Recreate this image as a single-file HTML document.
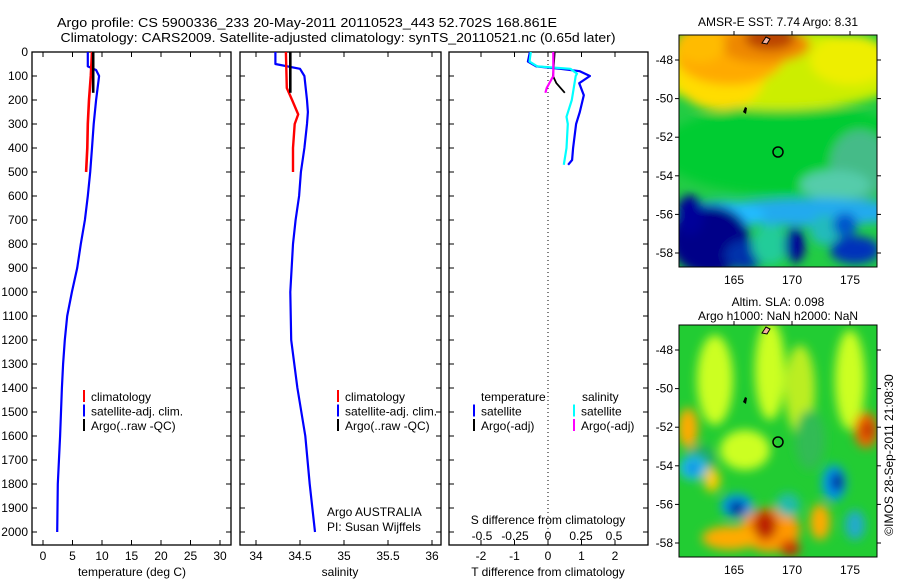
<!DOCTYPE html>
<html><head><meta charset="utf-8"><style>
html,body{margin:0;padding:0;background:#fff;}
svg{display:block;font-family:"Liberation Sans",sans-serif;}
</style></head><body>
<svg id="fig" width="900" height="580" viewBox="0 0 900 580">
<rect width="900" height="580" fill="#fff"/>
<text x="307" y="27" font-size="13" text-anchor="middle" textLength="500" lengthAdjust="spacingAndGlyphs">Argo profile: CS 5900336_233 20-May-2011 20110523_443 52.702S 168.861E</text>
<text x="338" y="42" font-size="13" text-anchor="middle" textLength="555" lengthAdjust="spacingAndGlyphs">Climatology: CARS2009. Satellite-adjusted climatology: synTS_20110521.nc (0.65d later)</text>
<g id="panels"></g>
<g id="maps"></g>
</svg>
<script>
// ---- data ----
const depthTicks=[0,100,200,300,400,500,600,700,800,900,1000,1100,1200,1300,1400,1500,1600,1700,1800,1900,2000];
const tTicks=[0,5,10,15,20,25,30];
const sTicks=[34,34.5,35,35.5,36];
const dTTicks=[-2,-1,0,1,2];
const dSTicks=[-0.5,-0.25,0,0.25,0.5];
const dSTickLabels=["-0.5","-0.25","0","0.25","0.5"];

const satTdepth=[0,60,75,100,200,300,400,500,600,700,800,900,1000,1100,1200,1300,1400,1600,1800,2000];
const satT=[7.6,7.6,9.0,9.5,9.0,8.6,8.3,8.0,7.6,7.1,6.4,5.8,4.9,4.1,3.7,3.4,3.2,2.9,2.5,2.4];
const climTdepth=[0,100,200,300,400,500];
const climT=[8.3,8.1,7.8,7.6,7.5,7.3];
const argoTdepth=[0,170];
const argoT=[8.5,8.5];

const satSdepth=[0,50,70,100,200,250,300,400,500,600,700,800,1000,1200,1400,1600,1800,2000];
const satS=[34.22,34.22,34.5,34.55,34.58,34.59,34.58,34.55,34.51,34.49,34.45,34.42,34.39,34.4,34.47,34.56,34.61,34.67];
const climSdepth=[0,150,200,260,300,400,500];
const climS=[34.34,34.35,34.41,34.48,34.44,34.42,34.42];
const argoSdepth=[0,170];
const argoS=[34.39,34.39];

const dTdepth=[0,40,60,70,80,100,130,180,250,300,400,450,470];
const dTsat=[-0.54,-0.6,-0.35,0.36,0.95,1.25,0.93,1.07,0.95,0.84,0.75,0.72,0.6];
const dTargoDepth=[0,100,130,170];
const dTargo=[0.2,0.15,0.25,0.5];
const dSdepth=[0,40,60,70,90,100,200,270,300,400,470];
const dSsat=[-0.13,-0.14,-0.08,0.17,0.22,0.21,0.18,0.14,0.15,0.14,0.12];
const dSargoDepth=[0,100,150,170];
const dSargo=[0.04,0.04,-0.01,-0.02];

// ---- axes ----
const Y0=52,YB=545;
const yD=d=>Y0+d*0.24;
const xT=t=>43+t*5.9;
const xS=s=>256+(s-34)*88;
const xdT=v=>548+v*33.5;
const xdS=v=>548+v*132;
const NS="http://www.w3.org/2000/svg";
const P=document.getElementById('panels');
function mk(tag,attrs,parent){const e=document.createElementNS(NS,tag);for(const k in attrs)e.setAttribute(k,attrs[k]);(parent||P).appendChild(e);return e;}
function txt(x,y,s,size,anchor,parent){const e=mk('text',{x:x,y:y,'font-size':size||12,'text-anchor':anchor||'start'},parent);e.textContent=s;return e;}
function line(xf,vals,depths,color,w,name){
  let d='';vals.forEach((v,i)=>{d+=(i?'L':'M')+xf(v).toFixed(1)+' '+yD(depths[i]).toFixed(1);});
  const p=mk('path',{d:d,fill:'none',stroke:color,'stroke-width':w||2.2,'stroke-linejoin':'round'});
  
  
}
const boxes=[[32,231],[240,441],[449,648]];
boxes.forEach((b,i)=>{
  const r=mk('rect',{x:b[0],y:Y0,width:b[1]-b[0],height:YB-Y0,fill:'none',stroke:'#000','stroke-width':1.3});
  
  
  depthTicks.forEach(d=>{mk('line',{x1:b[0],x2:b[0]+5,y1:yD(d),y2:yD(d),stroke:'#000'});mk('line',{x1:b[1],x2:b[1]-5,y1:yD(d),y2:yD(d),stroke:'#000'});});
});
depthTicks.forEach(d=>{const t=txt(28,yD(d)+4,String(d),12,'end');});
function xticks(vals,labels,xf,box,ly,topTicks){
  vals.forEach((v,i)=>{const x=xf(v);
    mk('line',{x1:x,x2:x,y1:YB,y2:YB-5,stroke:'#000'});
    if(topTicks)mk('line',{x1:x,x2:x,y1:Y0,y2:Y0+5,stroke:'#000'});
    const t=txt(x,ly,labels[i],12,'middle');
    
    });
}
xticks(tTicks,tTicks.map(String),xT,0,560,true);
xticks(sTicks,sTicks.map(String),xS,1,560,true);
xticks(dTTicks,dTTicks.map(String),xdT,2,560,true);
dSTicks.forEach((v,i)=>{const t=txt(xdS(v),540,dSTickLabels[i],12,'middle');});
const z=mk('line',{x1:548,x2:548,y1:Y0,y2:YB,stroke:'#000','stroke-dasharray':'1 3'});


[[132,576,'temperature (deg C)','x-axis-title-temperature'],[340,576,'salinity','x-axis-title-salinity'],[548,576,'T difference from climatology','x-axis-title-t-diff'],[548,524,'S difference from climatology','x-axis-title-s-diff']].forEach(a=>{const t=txt(a[0],a[1],a[2],12,'middle');});
line(xT,satT,satTdepth,'#0000ff',2.2,'temp-satellite-adj-line');
line(xT,climT,climTdepth,'#ff0000',2.6,'temp-climatology-line');
line(xT,argoT,argoTdepth,'#000',2.6,'temp-argo-line');
line(xS,satS,satSdepth,'#0000ff',2.2,'sal-satellite-adj-line');
line(xS,climS,climSdepth,'#ff0000',2.4,'sal-climatology-line');
line(xS,argoS,argoSdepth,'#000',2.6,'sal-argo-line');
line(xdT,dTsat,dTdepth,'#0000ff',2.2,'tdiff-satellite-line');
line(xdS,dSsat,dSdepth,'#00ffff',2.2,'sdiff-satellite-line');
line(xdT,dTargo,dTargoDepth,'#000',1.8,'tdiff-argo-line');
line(xdS,dSargo,dSargoDepth,'#ff00ff',2.2,'sdiff-argo-line');
function leg(x,y,color,label,name){
  const g=mk('g',{});
  
  
  mk('rect',{x:x,y:y-11,width:2,height:12,fill:color},g);
  txt(x+8,y,label,12,'start',g);
}
[[83,'climatology','#f00'],[83,'satellite-adj. clim.','#00f'],[83,'Argo(..raw -QC)','#000']].forEach((l,i)=>leg(l[0],401+i*14.5,l[2],l[1],'legend-entry-temp'));
[[337,'climatology','#f00'],[337,'satellite-adj. clim.','#00f'],[337,'Argo(..raw -QC)','#000']].forEach((l,i)=>leg(l[0],401+i*14.5,l[2],l[1],'legend-entry-sal'));
let t1=txt(481,401,'temperature',12);
let t2=txt(582,401,'salinity',12);
leg(473,415.5,'#00f','satellite','legend-entry-tdiff-sat');
leg(473,430,'#000','Argo(-adj)','legend-entry-tdiff-argo');
leg(573,415.5,'#0ff','satellite','legend-entry-sdiff-sat');
leg(573,430,'#f0f','Argo(-adj)','legend-entry-sdiff-argo');
let a1=txt(327,516,'Argo AUSTRALIA',12);
let a2=txt(327,531,'PI: Susan Wijffels',12);

// ---- maps ----
const M=document.getElementById('maps');
const defs=mk('defs',{},M);
const f=mk('filter',{id:'blur',x:'-50%',y:'-50%',width:'200%',height:'200%'},defs);
mk('feGaussianBlur',{stdDeviation:5},f);
const mapLonTicks=[165,170,175];
const mapLatTicks=[-48,-50,-52,-54,-56,-58];
const xLon=l=>734+(l-165)*11.6;
const yLat=l=>60+(-48-l)*19.3;
function mapFrame(top,title1,title2,name,blobs,base){
  const L=679,R=877,T=top,B=top+232;
  const g=mk('g',{},M);
  
  
  const cp=mk('clipPath',{id:'cp'+top},defs);
  mk('rect',{x:L,y:T,width:R-L,height:B-T},cp);
  const inner=mk('g',{'clip-path':'url(#cp'+top+')'},g);
  mk('rect',{x:L,y:T,width:R-L,height:B-T,fill:base},inner);
  const bg=mk('g',{filter:'url(#blur)'},inner);
  blobs.forEach(b=>mk('ellipse',{cx:b[0],cy:b[1]+top-35,rx:b[2],ry:b[3],fill:b[4]},bg));
  mk('rect',{x:L,y:T,width:R-L,height:B-T,fill:'none',stroke:'#000'},g);
  const off=top-35;
  mapLonTicks.forEach(l=>{const x=xLon(l);mk('line',{x1:x,x2:x,y1:T,y2:T-4,stroke:'#000'},g);txt(x,B+17,String(l),12,'middle',g);});
  mapLatTicks.forEach(l=>{const y=yLat(l)+off;mk('line',{x1:L,x2:L-4,y1:y,y2:y,stroke:'#000'},g);mk('line',{x1:R,x2:R+4,y1:y,y2:y,stroke:'#000'},g);txt(L-6,y+4,String(l),12,'end',g);});
  txt(778,title2?top-19:top-9,title1,12,'middle',g);
  if(title2)txt(778,top-5,title2,12,'middle',g);
  mk('path',{d:`M762 ${43+off} l4 -6 l4 2 l-3 5 z`,fill:'#f4b0a0',stroke:'#000'},g);
  mk('path',{d:`M743 ${112+off} l2 -5 l2 1 l-1 6 z`,fill:'#000'},g);
  const c=mk('circle',{cx:778,cy:152+off,r:5,fill:'none',stroke:'#000','stroke-width':1.5},g);
  
  
}
mapFrame(35,'AMSR-E SST: 7.74 Argo: 8.31',null,'sst-map',[
 [790,150,130,45,'#00cc33'],
 [780,70,130,40,'#ccee00'],[850,60,40,25,'#eeee00'],[720,75,45,35,'#ffdd00'],
 [730,55,55,30,'#ffaa00'],[765,45,45,18,'#ee8800'],[770,38,25,12,'#bb4400'],[700,45,25,18,'#ffbb00'],
 [860,165,30,35,'#44bb88'],[835,185,35,15,'#55ccaa'],
 [810,212,100,14,'#22aaee'],[720,215,45,14,'#22bbff'],
 [710,240,40,35,'#000088'],[690,215,14,20,'#000099'],[745,255,20,15,'#0033aa'],
 [770,245,18,20,'#22cc99'],[795,245,10,18,'#000099'],[825,230,15,15,'#22bbbb'],[855,250,25,14,'#0033bb'],[845,225,12,12,'#0055cc']
],'#22cc44');
mapFrame(325,'Altim. SLA: 0.098','Argo h1000: NaN h2000: NaN','sla-map',[
 [715,90,18,45,'#ccff22'],[770,80,15,50,'#ccff22'],[800,100,15,45,'#bbee22'],[850,90,15,50,'#ccff22'],[745,160,25,20,'#ccff22'],[810,150,15,30,'#33bb55'],[700,170,15,15,'#22aa66'],
 [688,138,10,20,'#ffaa00'],[866,140,12,18,'#ee6600'],[868,140,6,8,'#bb3300'],
 [693,178,14,12,'#22bbee'],[693,178,6,5,'#0077dd'],
 [737,216,16,12,'#0099ee'],[737,218,8,7,'#000088'],
 [834,193,12,18,'#0099ee'],[837,192,6,10,'#000099'],
 [770,240,30,22,'#ff9900'],[765,235,12,15,'#bb2200'],[730,248,28,12,'#ffaa00'],[790,258,10,8,'#cc3300'],
 [820,232,10,18,'#ffaa00'],[712,190,8,12,'#ffcc00'],[788,215,12,12,'#22bbaa'],[855,235,10,15,'#22aacc']
],'#22cc33');
const cr=txt(0,0,'©IMOS 28-Sep-2011 21:08:30',12,'middle',M);
cr.setAttribute('transform','translate(893,455) rotate(-90)');


</script>
</body></html>
